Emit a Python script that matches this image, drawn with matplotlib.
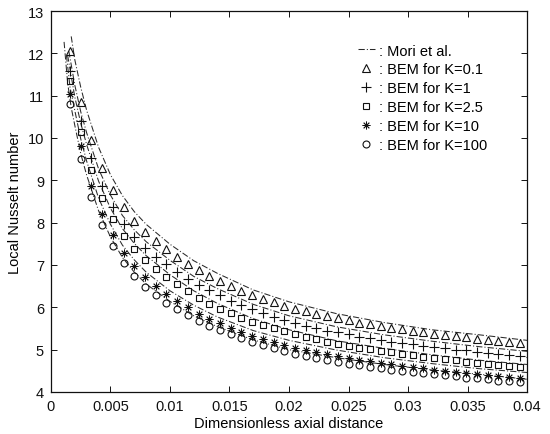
import matplotlib
matplotlib.use("Agg")
import matplotlib.pyplot as plt
from matplotlib.lines import Line2D

plt.rcParams['font.family'] = ['Liberation Sans', 'DejaVu Sans']

# Axial positions of the BEM nodes
x_bem = [0.0016, 0.0025, 0.0034, 0.0043, 0.0052, 0.0061, 0.0070, 0.0079, 0.0088, 0.0097,
         0.0106, 0.0115, 0.0124, 0.0133, 0.0142, 0.0151, 0.0160, 0.0169, 0.0178, 0.0187,
         0.0196, 0.0205, 0.0214, 0.0223, 0.0232, 0.0241, 0.0250, 0.0259, 0.0268, 0.0277,
         0.0286, 0.0295, 0.0304, 0.0313, 0.0322, 0.0331, 0.0340, 0.0349, 0.0358, 0.0367,
         0.0376, 0.0385, 0.0394, 0.0403]

# BEM local Nusselt number for each conductivity ratio K
nu_k01 = [12.05, 10.85, 9.95, 9.28, 8.77, 8.36, 8.05, 7.78, 7.56, 7.37, 7.19, 7.03, 6.87, 6.74,
          6.62, 6.50, 6.39, 6.29, 6.20, 6.12, 6.04, 5.97, 5.91, 5.85, 5.79, 5.74, 5.69, 5.64,
          5.60, 5.56, 5.52, 5.48, 5.45, 5.41, 5.38, 5.35, 5.32, 5.29, 5.26, 5.23, 5.20, 5.18,
          5.16, 5.14]
nu_k1 = [11.58, 10.40, 9.52, 8.86, 8.36, 7.96, 7.67, 7.41, 7.20, 7.02, 6.84, 6.68, 6.52, 6.40,
         6.28, 6.16, 6.05, 5.95, 5.86, 5.78, 5.70, 5.63, 5.57, 5.51, 5.45, 5.41, 5.36, 5.31,
         5.27, 5.23, 5.19, 5.15, 5.13, 5.09, 5.06, 5.03, 5.00, 4.98, 4.95, 4.92, 4.89, 4.87,
         4.85, 4.83]
nu_k25 = [11.35, 10.15, 9.25, 8.58, 8.08, 7.68, 7.38, 7.12, 6.91, 6.72, 6.54, 6.38, 6.22, 6.09,
          5.97, 5.86, 5.75, 5.66, 5.58, 5.50, 5.43, 5.36, 5.30, 5.24, 5.19, 5.14, 5.09, 5.05,
          5.01, 4.97, 4.94, 4.90, 4.87, 4.83, 4.80, 4.77, 4.75, 4.72, 4.69, 4.66, 4.63, 4.61,
          4.59, 4.57]
nu_k10 = [11.05, 9.80, 8.87, 8.20, 7.70, 7.29, 6.98, 6.71, 6.50, 6.32, 6.15, 6.00, 5.85, 5.73,
          5.62, 5.51, 5.41, 5.33, 5.25, 5.18, 5.11, 5.05, 5.00, 4.95, 4.90, 4.85, 4.81, 4.76,
          4.73, 4.69, 4.66, 4.62, 4.59, 4.56, 4.53, 4.50, 4.47, 4.45, 4.42, 4.40, 4.37, 4.36,
          4.34, 4.32]
nu_k100 = [10.80, 9.50, 8.61, 7.95, 7.45, 7.05, 6.75, 6.49, 6.28, 6.11, 5.95, 5.81, 5.67, 5.56,
           5.46, 5.36, 5.27, 5.18, 5.10, 5.03, 4.96, 4.90, 4.85, 4.80, 4.75, 4.71, 4.67, 4.63,
           4.60, 4.57, 4.53, 4.50, 4.47, 4.44, 4.42, 4.39, 4.37, 4.34, 4.32, 4.30, 4.27, 4.26,
           4.24, 4.23]

# Mori et al. reference solution: entrance points per K, then a common axial grid
mori_x = [0.002, 0.0025, 0.003, 0.004, 0.005, 0.006, 0.007, 0.008, 0.010, 0.012,
          0.014, 0.017, 0.020, 0.024, 0.028, 0.032, 0.036, 0.040]
mori_head_x = [[0.0017], [0.0015], [0.0014], [0.0013, 0.0016], [0.0011, 0.0014, 0.0017]]
mori_head_y = [[12.40], [12.05], [11.95], [11.95, 11.20], [12.27, 11.30, 10.72]]
mori_k01 = [11.85, 11.20, 10.65, 9.78, 9.13, 8.64, 8.26, 7.96, 7.49, 7.10,
            6.80, 6.41, 6.13, 5.85, 5.64, 5.47, 5.35, 5.22]
mori_k1 = [11.25, 10.62, 10.12, 9.27, 8.65, 8.17, 7.83, 7.55, 7.11, 6.73,
           6.44, 6.07, 5.80, 5.54, 5.35, 5.20, 5.07, 4.96]
mori_k25 = [10.97, 10.35, 9.84, 8.98, 8.34, 7.86, 7.51, 7.22, 6.77, 6.39,
            6.09, 5.73, 5.47, 5.21, 5.03, 4.88, 4.75, 4.65]
mori_k10 = [10.65, 9.98, 9.45, 8.58, 7.96, 7.47, 7.12, 6.83, 6.39, 6.05,
            5.77, 5.45, 5.22, 4.99, 4.81, 4.67, 4.55, 4.46]
mori_k100 = [10.30, 9.63, 9.12, 8.28, 7.66, 7.18, 6.83, 6.55, 6.14, 5.80,
             5.54, 5.23, 5.00, 4.81, 4.65, 4.52, 4.42, 4.30]

bem_series = [nu_k01, nu_k1, nu_k25, nu_k10, nu_k100]
mori_series = [mori_k01, mori_k1, mori_k25, mori_k10, mori_k100]
asterisk = (8, 2, 0)
markers = ['^', '+', 's', asterisk, 'o']
sizes = [5.2, 6.5, 4.8, 5.6, 5.0]
widths = [0.8, 0.8, 0.8, 0.6, 0.8]
labels = [': Mori et al.', ': BEM for K=0.1', ': BEM for K=1', ': BEM for K=2.5',
          ': BEM for K=10', ': BEM for K=100']

fig = plt.figure(figsize=(5.5, 4.35), dpi=100)
ax = fig.add_axes([0.0927, 0.0966, 0.8655, 0.8758])

line_col = '#2a2a2a'
dash_pat = (6, 2, 1, 2)
for hx, hy, my in zip(mori_head_x, mori_head_y, mori_series):
    ax.plot(hx + mori_x, hy + my, linestyle='-.', color=line_col, lw=0.75,
            dashes=dash_pat)

for ys, m, s, w in zip(bem_series, markers, sizes, widths):
    ax.plot(x_bem, ys, linestyle='none', marker=m, ms=s, mfc='none',
            mec='#111111', mew=w)

ax.set_xlim(0, 0.04)
ax.set_ylim(4, 13)
ax.set_xticks([0, 0.005, 0.01, 0.015, 0.02, 0.025, 0.03, 0.035, 0.04])
ax.set_xticklabels(['0', '0.005', '0.01', '0.015', '0.02', '0.025', '0.03', '0.035', '0.04'])
ax.set_yticks(range(4, 14))
ax.tick_params(direction='in', length=4, width=0.7, top=True, right=True,
               labelsize=10.5, pad=5, colors='#111111')
for sp in ax.spines.values():
    sp.set_linewidth(0.9)
    sp.set_color('#111111')

ax.set_xlabel('Dimensionless axial distance', fontsize=10.5, labelpad=2)
ax.set_ylabel('Local Nusselt number', fontsize=10.5, labelpad=4)

handles = [Line2D([], [], linestyle='-.', color=line_col, lw=0.75, dashes=dash_pat)]
for m, s, w in zip(markers, sizes, widths):
    handles.append(Line2D([], [], linestyle='none', marker=m, ms=s, mfc='none',
                          mec='#111111', mew=w))
ax.legend(handles, labels, loc='upper right', bbox_to_anchor=(0.928, 0.93),
          frameon=False, fontsize=10.5, handlelength=1.2, handletextpad=0.25,
          labelspacing=0.34, borderaxespad=0)

fig.savefig('out.png', dpi=100)
